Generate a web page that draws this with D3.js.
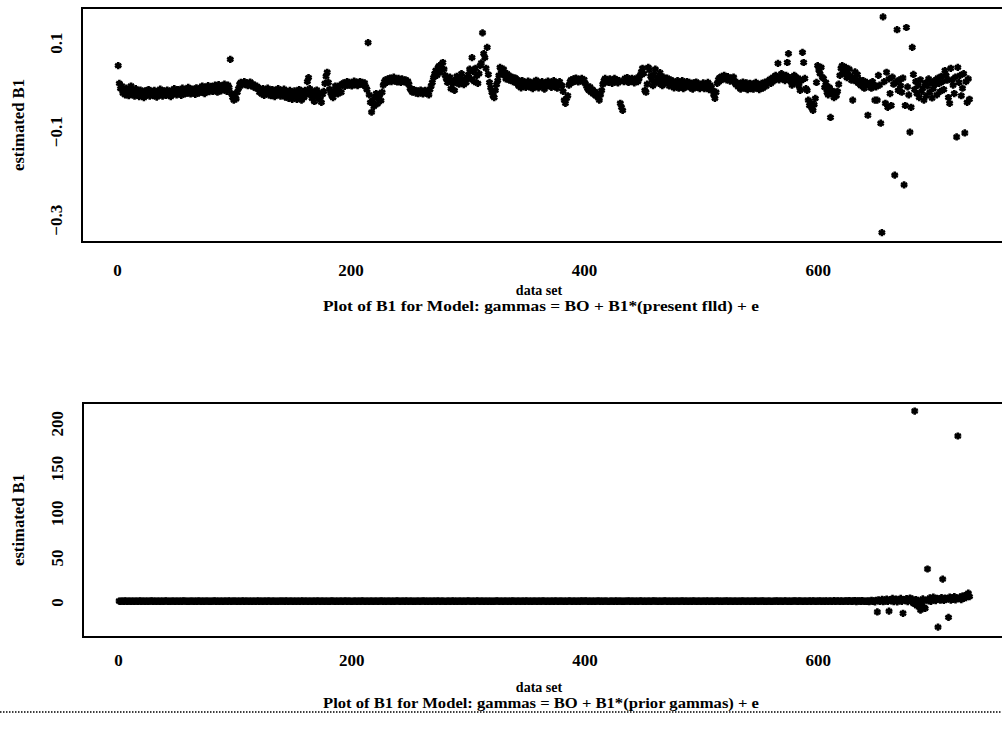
<!DOCTYPE html>
<html>
<head>
<meta charset="utf-8">
<script src="https://d3js.org/d3.v7.min.js"></script>
<style>
  body { margin: 0; background: #fff; }
  text { font-family: "Liberation Serif", "DejaVu Serif", serif; fill: #000; }
</style>
</head>
<body>
<svg id="chart" width="1002" height="729"></svg>
<script>

// tick labels
var xTicks = [0, 200, 400, 600];
var presentTicks = [0.1, -0.1, -0.3];
var priorTicks = [0, 50, 100, 150, 200];

// estimated B1, model with present flld (data set 1..730)
var presentB1 = [
  .048,.008,-.004,.002,-.014,-.008,-.018,-.003,-.012,-.020,
  -.006,.002,-.015,-.010,-.021,-.004,-.016,-.011,-.022,-.007,
  -.017,-.012,-.024,-.009,-.019,-.013,-.006,-.021,-.015,-.010,
  -.020,-.008,-.016,-.023,-.011,-.018,-.005,-.014,-.021,-.009,
  -.015,-.019,-.007,-.017,-.012,-.022,-.008,-.016,-.004,-.013,
  -.018,-.006,-.015,-.010,-.019,-.003,-.012,-.016,-.007,-.014,
  -.001,-.011,-.016,-.005,-.013,-.008,-.017,-.002,-.010,-.014,
  -.004,-.012,.002,-.009,-.015,-.003,-.008,.003,-.011,-.006,
  .001,-.010,-.004,.004,-.008,-.012,.005,-.002,-.009,.002,
  -.006,.006,-.003,-.010,.004,-.002,.062,-.015,-.024,-.030,
  -.020,-.027,-.012,-.004,.006,.010,.004,.008,.012,.005,
  .009,.003,.007,.011,.002,.006,.000,.004,-.003,.001,
  -.002,-.012,-.006,-.016,-.004,-.019,-.010,-.014,-.003,-.018,
  -.009,-.020,-.006,-.015,-.022,-.008,-.017,-.004,-.013,-.021,
  -.010,-.018,-.005,-.023,-.012,-.019,-.026,-.008,-.020,-.028,
  -.014,-.009,-.021,-.028,-.016,-.006,-.020,-.030,-.012,-.024,
  -.008,-.018,.012,.021,-.004,-.015,-.026,-.011,-.033,-.019,
  -.007,-.022,-.014,-.029,-.035,-.017,-.010,.008,.024,.033,
  .010,-.005,-.014,-.020,-.024,-.010,.002,-.008,-.016,-.003,
  .004,-.012,.006,.009,.001,.008,.012,.004,.010,.006,
  .002,.009,.013,.005,.011,.003,.008,.012,.006,.010,
  .004,.009,.000,-.006,.100,-.018,-.035,-.057,-.030,-.044,
  -.022,-.015,-.038,-.026,-.018,-.031,-.012,.004,.012,.016,
  .010,.018,.014,.020,.012,.016,.022,.013,.017,.011,
  .019,.014,.010,.018,.015,.012,.016,.009,.013,.006,
  -.004,-.008,-.012,-.006,-.010,-.014,-.009,-.015,-.011,-.007,
  -.013,-.016,-.010,-.008,-.014,-.012,-.018,-.006,.002,.010,
  .021,.030,.037,.026,.044,.048,.033,.041,.055,.040,
  .026,.018,.010,.014,.022,-.004,.012,.008,-.008,.016,
  .024,.012,.006,.020,.030,.014,.005,.018,.010,.022,
  .028,.040,.018,.066,.035,.012,.042,.025,.008,.030,
  .048,.054,.122,.075,.066,.042,.089,.028,.010,-.002,
  -.012,-.020,-.024,-.008,.005,.014,.026,.044,.038,.032,
  .040,.026,.018,.030,.022,.015,.024,.019,.012,.020,
  .020,.008,.016,.002,.012,-.002,.014,.004,.010,-.001,
  .008,.013,.000,.010,.004,-.004,.011,.002,.015,.006,
  -.002,.009,.003,.012,.000,-.005,.008,.002,.013,.004,
  .010,-.001,.007,.014,.002,.009,-.003,.006,.012,.004,
  .003,-.010,-.030,-.037,-.026,-.020,.004,.012,.016,.010,
  .018,.013,.020,.015,.011,.017,.014,.019,.012,.016,
  .008,.002,-.004,-.008,.000,-.012,-.006,-.016,-.010,-.020,
  -.014,-.024,-.030,-.018,-.008,.006,.014,.019,.012,.016,
  .010,.018,.013,.008,.015,.019,.011,.016,.009,.014,
  -.037,-.046,-.053,.012,.019,.015,.021,.010,.017,.013,
  .019,.014,.009,.016,.020,.012,.018,.026,.034,.042,
  .030,-.008,-.012,.006,.044,.038,.024,.015,.003,.028,
  .040,.012,.020,.008,.032,.016,.003,.022,.015,.010,
  .020,.008,.002,.016,.005,.013,-.002,.010,.004,.014,
  -.003,.009,.002,.014,-.004,.007,.000,.012,.003,.010,
  -.002,.008,-.005,.009,.001,.011,-.001,.006,-.004,.005,
  .000,.009,-.004,.006,-.001,.010,-.006,.004,-.002,-.008,
  -.018,-.026,-.012,.008,.016,.021,.014,.024,.019,.026,
  .020,.016,.023,.018,.013,.020,.015,.022,.010,.005,
  .010,.000,.006,-.005,.004,.011,-.003,.005,.009,-.006,
  .002,.008,-.004,.006,-.005,.003,.010,-.002,.005,-.006,
  .001,.008,-.003,.006,.011,.002,.009,.013,.017,.008,
  .018,.022,.014,.026,.020,.053,.016,.024,.030,.019,
  .022,.014,.026,.055,.075,.021,.012,.004,.018,.026,
  .016,.008,.020,.002,-.008,.014,.078,.055,.019,-.004,
  -.008,-.030,-.042,-.036,-.048,-.053,-.040,-.026,.010,.048,
  .038,.030,.044,.022,.019,-.001,.010,-.012,-.018,-.001,
  -.069,-.008,-.016,-.024,-.012,-.020,-.010,.006,.026,.042,
  .048,.036,.030,.044,.021,.028,.040,.024,.015,-.030,
  .020,.034,.012,.028,.008,.016,.003,.010,.014,-.003,
  .006,.010,-.064,.002,.008,-.003,.012,.005,-.030,.000,
  -.030,.026,.004,-.082,-.329,.158,.012,-.037,.033,-.046,
  .018,-.015,-.042,.022,.006,-.199,.010,.129,-.008,.016,
  .003,-.012,.020,-.221,-.042,.134,.000,-.018,-.102,-.046,
  .089,.028,-.006,.012,-.015,.004,-.024,.016,-.010,-.003,
  -.030,.008,-.020,.002,.018,-.012,.010,-.025,-.004,.014,
  .006,-.018,.020,.008,-.010,.024,.012,-.006,.037,.026,
  .015,-.024,-.037,.042,.016,.004,-.015,.022,-.113,.044,
  .010,.026,-.020,-.003,.030,-.104,.012,-.035,.018,-.028
];

// estimated B1, model with prior gammas (data set 1..730)
var priorB1 = [
  1.2,.9,1.1,1,.8,1.3,1,.9,1.1,1.2,.8,1,1.1,.9,1.2,1,.8,1.1,1.3,.9,
  1,1.1,.9,1.2,1,.8,1.1,1,1.3,.9,1.1,1,.9,1.2,1.1,.8,1,1.2,.9,1.1,
  1.3,1,.9,1.1,.8,1.2,1,1.1,.9,1,1.2,.8,1.1,1,.9,1.3,1,1.1,.9,1.2,
  .9,1.1,1,1.2,.8,1,1.1,.9,1.3,1,.8,1.2,1.1,.9,1,1.1,1.2,.9,1,.8,
  1.1,1,1.3,.9,1.2,1,.8,1.1,1,.9,1.2,1.1,1,.8,1.3,1,.9,1.1,1.2,1,
  1,.9,1.2,1.1,.8,1,1.3,.9,1.1,1,1.2,.9,1,1.1,.8,1.2,1,.9,1.1,1.3,
  .8,1.1,1,.9,1.2,1,1.1,.8,1.3,1,.9,1.2,1.1,1,.8,1.1,.9,1.2,1,1.1,
  1.2,1,.9,1.3,1,.8,1.1,1,1.2,.9,1.1,1,.8,1.2,1.1,.9,1,1.3,.9,1,
  1,1.2,.8,1.1,1,.9,1.2,1.1,1,.8,1.3,1,.9,1.1,1.2,1,.8,1.1,1,.9,
  1.1,.9,1.3,1,1.2,.8,1,1.1,.9,1.2,1,1.1,.8,1,1.3,.9,1.1,1,1.2,.9,
  .9,1.1,1,1.2,.8,1.1,1,.9,1.3,1,1.1,.8,1.2,1,.9,1.1,1.2,1,.8,1.1,
  1.2,1,.8,1.1,1,1.3,.9,1,1.1,.9,1.2,1,1.1,.8,1,1.2,.9,1.1,1.3,1,
  1,.9,1.1,1.2,1,.8,1.3,1,.9,1.1,1,1.2,.9,1.1,.8,1,1.2,1.1,.9,1,
  1.1,1.3,.9,1,1.2,.8,1.1,1,.9,1.2,1.1,1,.8,1.3,1,.9,1.1,1,1.2,.9,
  .8,1,1.2,1.1,.9,1,1.3,.9,1.1,1,.8,1.2,1,1.1,.9,1.2,1,.8,1.1,1.3,
  1,1.1,.9,1.2,1,.8,1.1,1.3,1,.9,1.2,1,1.1,.9,1,1.2,.8,1.1,1,.9,
  1.2,.9,1,1.1,1.3,1,.8,1.1,1,.9,1.2,1.1,1,.8,1.2,1,.9,1.3,1.1,1,
  .9,1.2,1.1,1,.8,1.1,1,1.2,.9,1.3,1,.8,1.1,1,.9,1.2,1,1.1,.8,1.2,
  1.1,1,.9,1.3,1,1.2,.8,1,1.1,.9,1,1.2,1.1,.8,1.3,1,.9,1.1,1.2,1,
  1,.8,1.2,1.1,.9,1,1.3,1,.9,1.1,1.2,1,.8,1.1,1,.9,1.3,1.1,1,1.2,
  1.3,1,.9,1.1,1.2,.8,1,1.1,.9,1.2,1,1.3,.9,1,1.1,.8,1.2,1,1.1,.9,
  .9,1.1,1.2,1,.8,1.1,1.3,.9,1,1.2,1.1,.9,1,.8,1.2,1.1,1,1.3,.9,1,
  1.1,1,.8,1.2,1.1,.9,1,1.3,1,.9,1.2,1.1,.8,1,1.1,1.2,.9,1,1.3,1.1,
  1,1.2,.9,1.1,1,.8,1.2,1,1.3,1.1,.9,1,1.2,.8,1.1,1,.9,1.2,1.1,1,
  .8,1.1,1,1.3,.9,1.2,1,1.1,.9,1,1.2,.8,1.3,1.1,1,.9,1.1,1.2,1,.9,
  1.2,1,1.1,.9,1.3,1,.8,1.2,1.1,1,.9,1.1,1,1.3,.8,1.2,1,.9,1.1,1,
  1,1.3,.9,1.1,1.2,1,.8,1.1,1,1.2,.9,1,1.1,.8,1.3,1,1.2,.9,1.1,1,
  1.1,.9,1.2,1,.8,1.3,1.1,1,.9,1.2,1,1.1,1.3,.9,1,.8,1.2,1.1,1,.9,
  .9,1.2,1,1.1,1.3,.8,1,1.2,1.1,.9,1,1.3,1,.8,1.1,1.2,.9,1,1.1,1.3,
  1.2,1,.9,1.3,1.1,1,.8,1.2,1,1.1,.9,1.2,1.4,.8,1,1.3,1.1,.9,1.2,1,
  1,1.4,.8,1.2,1.1,.9,1.5,1,.7,1.3,1.1,.9,1.2,1.6,.8,1,1.3,1.1,.9,1.4,
  1.1,.7,1.5,1,1.3,.8,1.6,1.2,.9,1.4,1.1,1.8,.6,1.3,1,1.5,.9,1.7,1.2,.8,
  1.1,.9,1.4,.6,1.2,2.1,.8,1.5,.3,1.9,
  -11,2.4,.7,1.6,3.1,.4,2.2,1.1,3.5,.9,
  -10,2.8,1.3,4.2,.6,1.8,3.4,.2,2.5,1.4,
  4.1,.8,-12.5,2.9,1.6,3.8,.5,2.2,4.6,1.2,
  3.3,-1.5,213.6,2.7,-4.2,1.9,-3.1,-9,-2.4,3.6,
  -5.8,-7,2.1,37,1.4,4.8,.9,3.2,5.5,2.4,
  1.7,4.1,-28,3.6,2.2,5.1,25.7,1.8,4.4,2.9,
  3.8,-17,5.6,2.3,4.9,3.1,6.2,2.6,4.5,185.7,
  3.9,5.8,2.8,6.7,4.2,7.4,5.1,8.3,10,6.2
];

var presentTitle = "Plot of B1 for Model:  gammas = BO + B1*(present flld) + e";
var priorTitle = "Plot of B1 for Model:  gammas = BO + B1*(prior gammas) + e";

var svg = d3.select("#chart");
var star = d3.symbol().type(d3.symbolAsterisk).size(36);

function drawPanel (values, yDomain, yTicks, yFormat, box, labels) {

    var x = d3.scaleLinear().domain([-30, 757]).range([box.left, box.right]);
    var y = d3.scaleLinear().domain(yDomain).range([box.bottom, box.top]);

    var g = svg.append("g");

    // points, one per data set
    g.append("g")
        .selectAll("path")
        .data(values)
        .join("path")
            .attr("d", star)
            .attr("transform", (d, i) => "translate(" + x(i + 1) + "," + y(d) + ")")
            .attr("fill", "none")
            .attr("stroke", "#000")
            .attr("stroke-width", 2.6);

    // frame (right side sits just past the page edge, as in the scan)
    g.append("rect")
        .attr("x", box.left)
        .attr("y", box.top)
        .attr("width", box.right + 3 - box.left)
        .attr("height", box.bottom - box.top)
        .attr("fill", "none")
        .attr("stroke", "#000")
        .attr("stroke-width", 2);

    // x axis labels
    var xAxis = g.append("g")
        .attr("transform", "translate(0," + box.bottom + ")")
        .call(d3.axisBottom(x).tickValues(xTicks).tickSize(0).tickPadding(labels.xPad));
    xAxis.select(".domain").remove();
    xAxis.selectAll("text")
        .style("font-family", "'Liberation Serif', serif")
        .style("font-size", "17px")
        .style("font-weight", "bold");

    // y axis labels, rotated like the original
    var yAxis = g.append("g")
        .attr("transform", "translate(" + box.left + ",0)")
        .call(d3.axisLeft(y).tickValues(yTicks).tickFormat(d3.format(yFormat)).tickSize(0));
    yAxis.select(".domain").remove();
    yAxis.selectAll("text")
        .attr("transform", "rotate(-90)")
        .attr("x", 0)
        .attr("y", -20)
        .attr("dy", 0)
        .attr("text-anchor", "middle")
        .style("font-family", "'Liberation Serif', serif")
        .style("font-size", "17px")
        .style("font-weight", "bold");

    g.append("text")
        .attr("transform", "translate(24," + ((box.top + box.bottom) / 2) + ") rotate(-90)")
        .attr("text-anchor", "middle")
        .attr("font-size", 16)
        .attr("font-weight", "bold")
        .attr("textLength", 92)
        .attr("lengthAdjust", "spacingAndGlyphs")
        .text("estimated B1");

    g.append("text")
        .attr("x", 539)
        .attr("y", box.bottom + labels.setY)
        .attr("text-anchor", "middle")
        .attr("font-size", 14)
        .attr("font-weight", "bold")
        .text("data set");

    g.append("text")
        .attr("x", 541)
        .attr("y", box.bottom + labels.titleY)
        .attr("text-anchor", "middle")
        .attr("font-size", 15)
        .attr("font-weight", "bold")
        .attr("textLength", 436)
        .attr("lengthAdjust", "spacingAndGlyphs")
        .text(labels.title);
}

drawPanel(presentB1, [-0.35, 0.178], presentTicks, ".1f",
          {left: 82, right: 1001, top: 8, bottom: 242},
          {xPad: 22, setY: 53, titleY: 69, title: presentTitle});

drawPanel(priorB1, [-39, 222.6], priorTicks, "d",
          {left: 83, right: 1001, top: 403, bottom: 637},
          {xPad: 17, setY: 55, titleY: 71, title: priorTitle});

// dotted page edge under the second title
svg.append("line")
    .attr("x1", 0).attr("x2", 1002)
    .attr("y1", 712).attr("y2", 712)
    .attr("stroke", "#000")
    .attr("stroke-width", 1.5)
    .attr("stroke-dasharray", "1.5,1.5");

</script>
</body>
</html>
